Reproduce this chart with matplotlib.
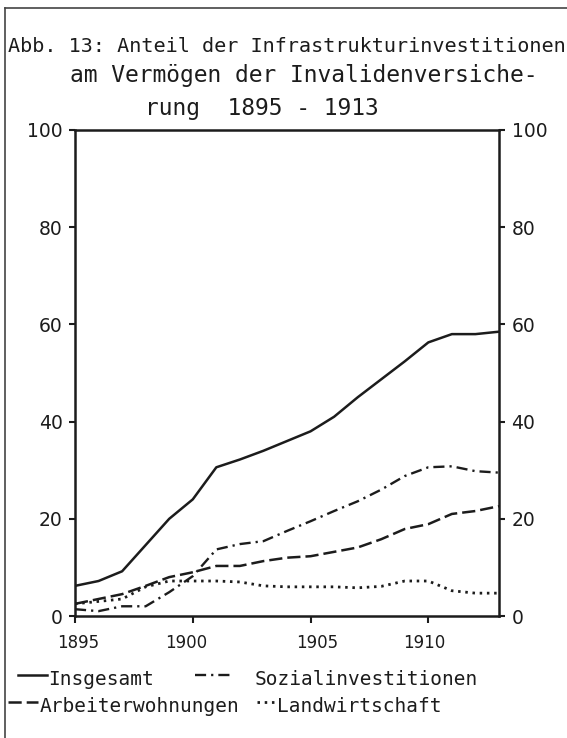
import matplotlib
matplotlib.use('Agg')
import matplotlib.pyplot as plt
from matplotlib.lines import Line2D
from matplotlib.transforms import ScaledTranslation

# values (percent)
years = list(range(1895, 1914))
insgesamt = [6.2, 7.2, 9.2, 14.6, 20.0, 24.0, 30.6, 32.2, 34.0, 36.0, 38.0,
             41.0, 45.0, 48.7, 52.4, 56.3, 58.0, 58.0, 58.5]
sozial = [1.4, 1.0, 2.0, 2.0, 4.9, 8.2, 13.7, 14.8, 15.4, 17.5, 19.5,
          21.6, 23.6, 26.0, 28.8, 30.6, 30.8, 29.8, 29.5]
arbeiter = [2.5, 3.5, 4.5, 6.2, 8.0, 9.0, 10.3, 10.3, 11.3, 12.0, 12.3,
            13.2, 14.1, 15.8, 17.9, 18.9, 21.0, 21.6, 22.6]
landwirtschaft = [2.5, 3.0, 3.5, 6.0, 7.2, 7.2, 7.2, 7.0, 6.2, 6.0, 6.0,
                  6.0, 5.8, 6.1, 7.2, 7.2, 5.2, 4.7, 4.7]

x_ticks = [1895, 1900, 1905, 1910]
y_ticks = [0, 20, 40, 60, 80, 100]
title_lines = ["Abb. 13: Anteil der Infrastrukturinvestitionen",
               "am Vermögen der Invalidenversiche-",
               "rung  1895 - 1913"]

INK = '#1c1c1c'
MONO = 'DejaVu Sans Mono'
plt.rcParams['lines.scale_dashes'] = False

W, H = 567, 738


def fx(x):
    return x / W


def fy(y):
    return 1 - y / H


series = [
    (insgesamt, 'Insgesamt', '-', 1.8),
    (sozial, 'Sozialinvestitionen', (0, (8, 3.6, 1.6, 3.6)), 1.7),
    (arbeiter, 'Arbeiterwohnungen', (0, (9.5, 3.6)), 1.8),
    (landwirtschaft, 'Landwirtschaft', (0, (1.8, 3.4)), 2.0),
]

fig = plt.figure(figsize=(W / 100, H / 100), dpi=100)
ax = fig.add_axes([fx(75), fy(616), (499 - 75) / W, (616 - 130) / H])

for vals, label, ls, lw in series:
    ax.plot(years, vals, color=INK, lw=lw, linestyle=ls, label=label)

ax.set_xlim(1895, 1913)
ax.set_ylim(0, 100)
for sp in ax.spines.values():
    sp.set_linewidth(1.8)
    sp.set_color(INK)

ax.set_xticks(x_ticks)
ax.set_xticklabels([str(x) for x in x_ticks], fontsize=12, color=INK)
ax.tick_params(axis='x', direction='out', length=5, width=1.5, pad=8,
               color=INK)
# typed labels sit a little off their ticks
for lab, dx in zip(ax.get_xticklabels(), [3, -7, 7, -4]):
    lab.set_transform(lab.get_transform() +
                      ScaledTranslation(dx / 100, 0, fig.dpi_scale_trans))

ax.set_yticks(y_ticks)
ax.tick_params(axis='y', direction='out', length=4, width=1.5, pad=5,
               left=True, right=True, labelleft=True, labelright=True,
               labelsize=13.5, color=INK, labelcolor=INK)

# title, typed in three lines (first line squeezed to fit the page)
for txt, x0, base, size in zip(title_lines, [8, 70, 145], [52, 82, 115],
                               [14.5, 16.5, 16.5]):
    fig.text(fx(x0), fy(base), txt, family=MONO, fontsize=size, color=INK,
             ha='left', va='baseline')

# hand-made legend below the plot
legend_rows = [
    (series[0], 18, 47, 675, 48, 685),
    (series[1], 195, 233, 675, 255, 685),
    (series[2], 8, 38, 702, 40, 712),
    (series[3], 257, 275, 702, 277, 712),
]
for (vals, label, ls, lw), x0, x1, ys, xt, base in legend_rows:
    fig.add_artist(Line2D([fx(x0), fx(x1)], [fy(ys), fy(ys)], lw=lw,
                          linestyle=ls, color=INK,
                          transform=fig.transFigure))
    fig.text(fx(xt), fy(base), label, family=MONO, fontsize=14, color=INK,
             ha='left', va='baseline')

# frame of the scanned page
fig.add_artist(Line2D([fx(5), fx(5)], [0, fy(8)], lw=1.2, color='#444444',
                      transform=fig.transFigure))
fig.add_artist(Line2D([fx(5), 1], [fy(8), fy(8)], lw=1.2, color='#444444',
                      transform=fig.transFigure))

fig.savefig('out.png', dpi=100)
